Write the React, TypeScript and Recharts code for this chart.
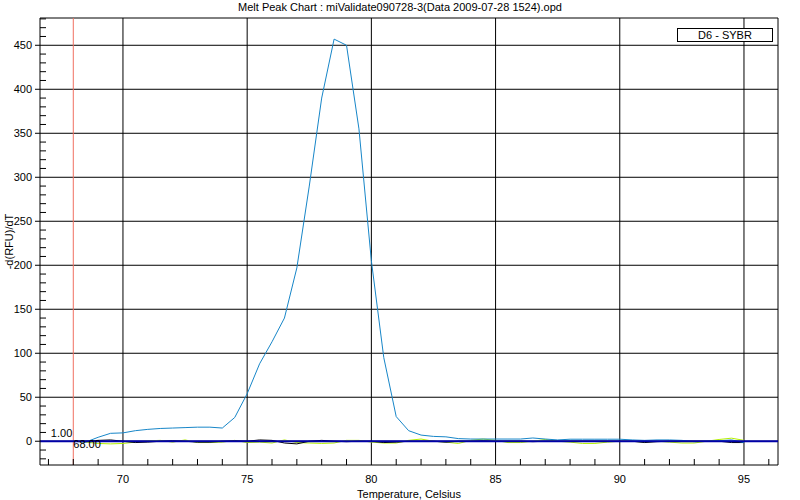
import { LineChart, Line, XAxis, YAxis, CartesianGrid, ReferenceLine, ReferenceDot } from 'recharts'

// temperature steps (Celsius)
const temps = [
  68, 68.5, 69, 69.5, 70, 70.5, 71, 71.5, 72, 72.5, 73, 73.5, 74, 74.5, 75, 75.5, 76, 76.5, 77, 77.5,
  78, 78.5, 79, 79.5, 80, 80.5, 81, 81.5, 82, 82.5, 83, 83.5, 84, 84.5, 85, 85.5, 86, 86.5, 87, 87.5,
  88, 88.5, 89, 89.5, 90, 90.5, 91, 91.5, 92, 92.5, 93, 93.5, 94, 94.5, 95,
]

// D6 - SYBR, -d(RFU)/dT
const d6Values = [
  0, -1, 4.5, 9, 9.5, 12, 13.5, 14.5, 15, 15.5, 16, 16, 15, 27, 54, 88, 113, 140, 197, 290,
  390, 457, 450, 355, 205, 95, 28, 12, 7, 5.5, 5, 3, 2.5, 2.5, 2.5, 2.5, 2.5, 3.7, 2.5, 1.5,
  2.3, 2.3, 2.3, 2.3, 2.3, 1.5, 1, 1.5, 1.5, 1, -0.5, 0, 0.5, 1.5, -1.5,
]

// other wells, near zero
const greenValues = [
  0, -1, -2.5, -3, -2.5, -1, 0.5, 1, -1, 1.5, -1.5, -1.5, -1, 1, -1.5, -1, -2, 1.5, -1.5, -2,
  -2.5, -2, 1, 1, -1, -2, -2, 1, 2.5, 0, -1, -2.5, 1, 2.5, 1, -1.5, -1.5, 0, 2, 0,
  -1, -2.5, -2.5, -1, 0, 0, -1, 0, -1, -2, -2, 0, 2, 3.5, 1,
]
const blackValues = [
  0, 0, 1, 1.5, 0, -1.5, -1, 0, 0.5, 0, -1, -1, 0, 0.5, 0, 1.5, 1, -2, -3, 0,
  1, 0, -0.5, 0, 0, -1.5, -1, 0, 0, 0, -1, 0, 0, 0.5, 0, 0, 0, -0.5, 0, 0,
  0, 0, 0, 0, 0, 0, -1.5, -0.5, 0, 0, 0, 0, 0, -1.5, -1.5,
]

const xMajor = [70, 75, 80, 85, 90, 95]
const xTicks = Array.from({ length: 30 }, (_, i) => 67 + i)
const yMajor = [0, 50, 100, 150, 200, 250, 300, 350, 400, 450]
const yTicks = Array.from({ length: 51 }, (_, i) => -20 + i * 10)

const X_DOMAIN: [number, number] = [66.66, 96.37]
const Y_DOMAIN: [number, number] = [-27, 481]

const data = temps.map((t, i) => ({
  temp: t,
  d6: d6Values[i],
  green: greenValues[i],
  black: blackValues[i],
}))

const FONT = 'Arial, "Liberation Sans", sans-serif'

function XTick({ x, y, payload }: any) {
  const v = payload.value
  const major = v % 5 === 0
  return (
    <g>
      {!major && <line x1={x} x2={x} y1={y} y2={y - 6} stroke="#000" />}
      {major && (
        <text x={x} y={y + 18} textAnchor="middle" fontSize={11} fill="#000" fontFamily={FONT}>{v}</text>
      )}
    </g>
  )
}

function YTick({ x, y, payload }: any) {
  const v = payload.value
  const major = v % 50 === 0
  return (
    <g>
      {major
        ? <line x1={x - 5} x2={x} y1={y} y2={y} stroke="#000" />
        : <line x1={x} x2={x + 6} y1={y} y2={y} stroke="#000" />}
      {major && (
        <text x={x - 8} y={y + 4} textAnchor="end" fontSize={11} fill="#000" fontFamily={FONT}>{v}</text>
      )}
    </g>
  )
}

function CursorLabel({ viewBox }: any) {
  const cx = viewBox.x + viewBox.width / 2
  const cy = viewBox.y + viewBox.height / 2
  return (
    <g fontSize={11} fontFamily={FONT} fill="#000">
      <text x={cx - 1} y={cy - 3} textAnchor="end">1.00</text>
      <text x={cx} y={cy + 8}>68.00</text>
    </g>
  )
}

export default function App() {
  return (
    <div style={{ position: 'absolute', left: 0, top: 0, width: 800, height: 500, background: '#fff', fontFamily: FONT }}>
      <div style={{ position: 'absolute', left: 0, top: 0, width: 800, textAlign: 'center', fontSize: 11, lineHeight: '14px' }}>
        Melt Peak Chart : miValidate090728-3(Data 2009-07-28 1524).opd
      </div>
      <LineChart width={800} height={500} data={data} margin={{ top: 18, right: 22, bottom: 0, left: 0 }}>
        <CartesianGrid
          stroke="#000"
          strokeOpacity={1}
          horizontalValues={[...yMajor, Y_DOMAIN[1]]}
          verticalValues={[...xMajor, X_DOMAIN[1]]}
        />
        <XAxis
          dataKey="temp"
          type="number"
          domain={X_DOMAIN}
          ticks={xTicks}
          interval={0}
          allowDataOverflow
          height={35}
          tickSize={0}
          tickMargin={0}
          tickLine={false}
          axisLine={{ stroke: '#000' }}
          tick={<XTick />}
          label={{ value: 'Temperature, Celsius', position: 'insideBottom', offset: 2, fontSize: 11, fill: '#000', fontFamily: FONT }}
        />
        <YAxis
          type="number"
          domain={Y_DOMAIN}
          ticks={yTicks}
          interval={0}
          allowDataOverflow
          width={40}
          tickSize={0}
          tickMargin={0}
          tickLine={false}
          axisLine={{ stroke: '#000' }}
          tick={<YTick />}
          label={{ value: '-d(RFU)/dT', angle: -90, position: 'insideLeft', offset: 9, fontSize: 11, fill: '#000', fontFamily: FONT, style: { textAnchor: 'middle' } }}
        />
        <ReferenceLine x={68} stroke="#f07060" strokeWidth={1} />
        <Line type="linear" dataKey="green" stroke="#b4f000" strokeWidth={1} dot={false} isAnimationActive={false} />
        <Line type="linear" dataKey="black" stroke="#000" strokeWidth={1} dot={false} isAnimationActive={false} />
        <Line type="linear" dataKey="d6" stroke="#1786c8" strokeWidth={1} dot={false} isAnimationActive={false} />
        <ReferenceLine y={0} stroke="#0000a8" strokeWidth={2} />
        <ReferenceDot x={68} y={1} r={1} fill="none" stroke="none" label={<CursorLabel />} />
      </LineChart>
      <div style={{
        position: 'absolute', left: 677, top: 28, width: 94, height: 12, border: '1px solid #000',
        fontSize: 11, lineHeight: '12px', textAlign: 'center', background: '#fff',
      }}>
        D6 - SYBR
      </div>
    </div>
  )
}
